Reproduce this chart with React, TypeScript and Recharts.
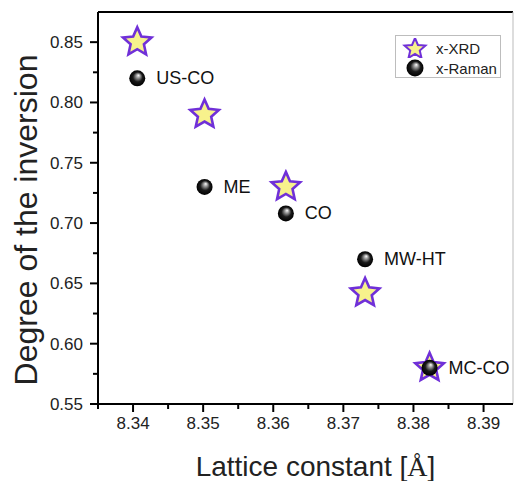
import React from 'react';
import { ScatterChart, Scatter, XAxis, YAxis, ReferenceLine, Legend } from 'recharts';

const samples = ['US-CO', 'ME', 'CO', 'MW-HT', 'MC-CO'];
const lattice = [8.3406, 8.3502, 8.3618, 8.3731, 8.3823];
const xrdInversion = [0.85, 0.79, 0.73, 0.642, 0.58];
const ramanInversion = [0.82, 0.73, 0.708, 0.67, 0.58];

const xTicks = [8.335, 8.34, 8.345, 8.35, 8.355, 8.36, 8.365, 8.37, 8.375, 8.38, 8.385, 8.39];
const xTickLabels = ['', '8.34', '', '8.35', '', '8.36', '', '8.37', '', '8.38', '', '8.39'];
const yTicks = [0.55, 0.575, 0.6, 0.625, 0.65, 0.675, 0.7, 0.725, 0.75, 0.775, 0.8, 0.825, 0.85];
const yTickLabels = ['0.55', '', '0.60', '', '0.65', '', '0.70', '', '0.75', '', '0.80', '', '0.85'];

const xrdData = lattice.map((x, i) => ({ x, y: xrdInversion[i], name: samples[i] }));
const ramanData = lattice.map((x, i) => ({ x, y: ramanInversion[i], name: samples[i] }));

const FONT = '"Liberation Sans", Arial, Helvetica, sans-serif';

const starPoints = (cx: number, cy: number, R: number, r: number) => {
  const pts: string[] = [];
  for (let k = 0; k < 10; k++) {
    const rad = k % 2 === 0 ? R : r;
    const a = -Math.PI / 2 + (k * Math.PI) / 5;
    pts.push(`${cx + rad * Math.cos(a)},${cy + rad * Math.sin(a)}`);
  }
  return pts.join(' ');
};

const StarShape = (props: any) => {
  const { cx, cy } = props;
  if (cx == null || cy == null) return null;
  return (
    <polygon
      points={starPoints(cx, cy, 15, 7)}
      fill="#f7f28c"
      stroke="#7030d8"
      strokeWidth={2.6}
      strokeLinejoin="miter"
    />
  );
};

const BallShape = (props: any) => {
  const { cx, cy, payload, index } = props;
  if (cx == null || cy == null) return null;
  const id = `ballGrad${index}`;
  return (
    <g>
      <defs>
        <radialGradient id={id} cx="0.5" cy="0.5" r="0.5" fx="0.58" fy="0.3">
          <stop offset="0%" stopColor="#ffffff" />
          <stop offset="25%" stopColor="#9a9a9a" />
          <stop offset="60%" stopColor="#1a1a1a" />
          <stop offset="100%" stopColor="#000000" />
        </radialGradient>
      </defs>
      <circle cx={cx} cy={cy} r={8} fill={`url(#${id})`} />
      <text x={cx + 19} y={cy + 6} fontSize={18} fontFamily={FONT} fill="#111">
        {payload.name}
      </text>
    </g>
  );
};

const findIdx = (arr: number[], v: number) => arr.findIndex((t) => Math.abs(t - v) < 1e-6);

const XTick = (props: any) => {
  const { x, y, payload } = props;
  const i = findIdx(xTicks, payload.value);
  const label = i >= 0 ? xTickLabels[i] : '';
  const major = label !== '';
  return (
    <g>
      <line x1={x} x2={x} y1={y} y2={y + (major ? 8 : 5)} stroke="#000" strokeWidth={2} />
      {major && (
        <text x={x} y={y + 25} textAnchor="middle" fontSize={17} fontFamily={FONT} fill="#222">
          {label}
        </text>
      )}
    </g>
  );
};

const YTick = (props: any) => {
  const { x, y, payload } = props;
  const i = findIdx(yTicks, payload.value);
  const label = i >= 0 ? yTickLabels[i] : '';
  const major = label !== '';
  return (
    <g>
      <line x1={x - (major ? 8 : 5)} x2={x} y1={y} y2={y} stroke="#000" strokeWidth={2} />
      {major && (
        <text x={x - 15} y={y + 6} textAnchor="end" fontSize={17} fontFamily={FONT} fill="#222">
          {label}
        </text>
      )}
    </g>
  );
};

const XTitle = (props: any) => {
  const vb = props.viewBox || {};
  const cx = vb.x + vb.width / 2;
  return (
    <text x={cx + 10} y={vb.y + 72} textAnchor="middle" fontSize={28} fontFamily={FONT} fill="#222">
      <tspan>Lattice constant [</tspan>
      <tspan fontFamily='"Liberation Serif", "Times New Roman", serif'>Å</tspan>
      <tspan>]</tspan>
    </text>
  );
};

const YTitle = (props: any) => {
  const vb = props.viewBox || {};
  const cy = vb.y + vb.height / 2 + 12;
  const x = 37;
  return (
    <text
      x={x}
      y={cy}
      transform={`rotate(-90 ${x} ${cy})`}
      textAnchor="middle"
      fontSize={32}
      fontFamily={FONT}
      fill="#222"
    >
      Degree of the inversion
    </text>
  );
};

const LegendBox = () => (
  <div
    style={{
      border: '1px solid #bdbdbd',
      background: '#fff',
      width: 106,
      height: 43,
      boxSizing: 'border-box',
      fontFamily: FONT,
      fontSize: 15,
      color: '#222',
      paddingTop: 2,
    }}
  >
    <div style={{ display: 'flex', alignItems: 'center', height: 20 }}>
      <svg width={40} height={20}>
        <polygon points={starPoints(19, 11, 11, 5)} fill="#f7f28c" stroke="#7030d8" strokeWidth={2} />
      </svg>
      <span>x-XRD</span>
    </div>
    <div style={{ display: 'flex', alignItems: 'center', height: 20 }}>
      <svg width={40} height={20}>
        <defs>
          <radialGradient id="legBall" cx="0.5" cy="0.5" r="0.5" fx="0.58" fy="0.3">
            <stop offset="0%" stopColor="#ffffff" />
            <stop offset="25%" stopColor="#9a9a9a" />
            <stop offset="60%" stopColor="#1a1a1a" />
            <stop offset="100%" stopColor="#000000" />
          </radialGradient>
        </defs>
        <circle cx={19} cy={10} r={8.5} fill="url(#legBall)" />
      </svg>
      <span>x-Raman</span>
    </div>
  </div>
);

export default function App() {
  return (
    <div style={{ width: 518, height: 481 }}>
      <style>{`body{margin:0;background:#fff}`}</style>
      <ScatterChart width={518} height={481} margin={{ top: 12, right: 5, bottom: 0, left: 0 }}>
        <XAxis
          type="number"
          dataKey="x"
          domain={[8.335, 8.3942]}
          allowDataOverflow
          ticks={xTicks}
          interval={0}
          tickSize={0}
          tickMargin={0}
          tick={<XTick />}
          height={77}
          axisLine={{ stroke: '#000', strokeWidth: 2 }}
          tickLine={false}
          label={<XTitle />}
        />
        <YAxis
          type="number"
          dataKey="y"
          domain={[0.55, 0.875]}
          allowDataOverflow
          ticks={yTicks}
          interval={0}
          tickSize={0}
          tickMargin={0}
          tick={<YTick />}
          width={98}
          axisLine={{ stroke: '#000', strokeWidth: 2 }}
          tickLine={false}
          label={<YTitle />}
        />
        <ReferenceLine y={0.875} stroke="#000" strokeWidth={2} />
        <ReferenceLine x={8.3942} stroke="#bbbbbb" strokeWidth={1} />
        <Legend
          layout="vertical"
          align="center"
          verticalAlign="middle"
          content={<LegendBox />}
          wrapperStyle={{ position: 'absolute', left: 395, top: 35, width: 106, height: 43 }}
        />
        <Scatter name="x-XRD" data={xrdData} shape={<StarShape />} isAnimationActive={false} />
        <Scatter name="x-Raman" data={ramanData} shape={<BallShape />} isAnimationActive={false} />
      </ScatterChart>
    </div>
  );
}
